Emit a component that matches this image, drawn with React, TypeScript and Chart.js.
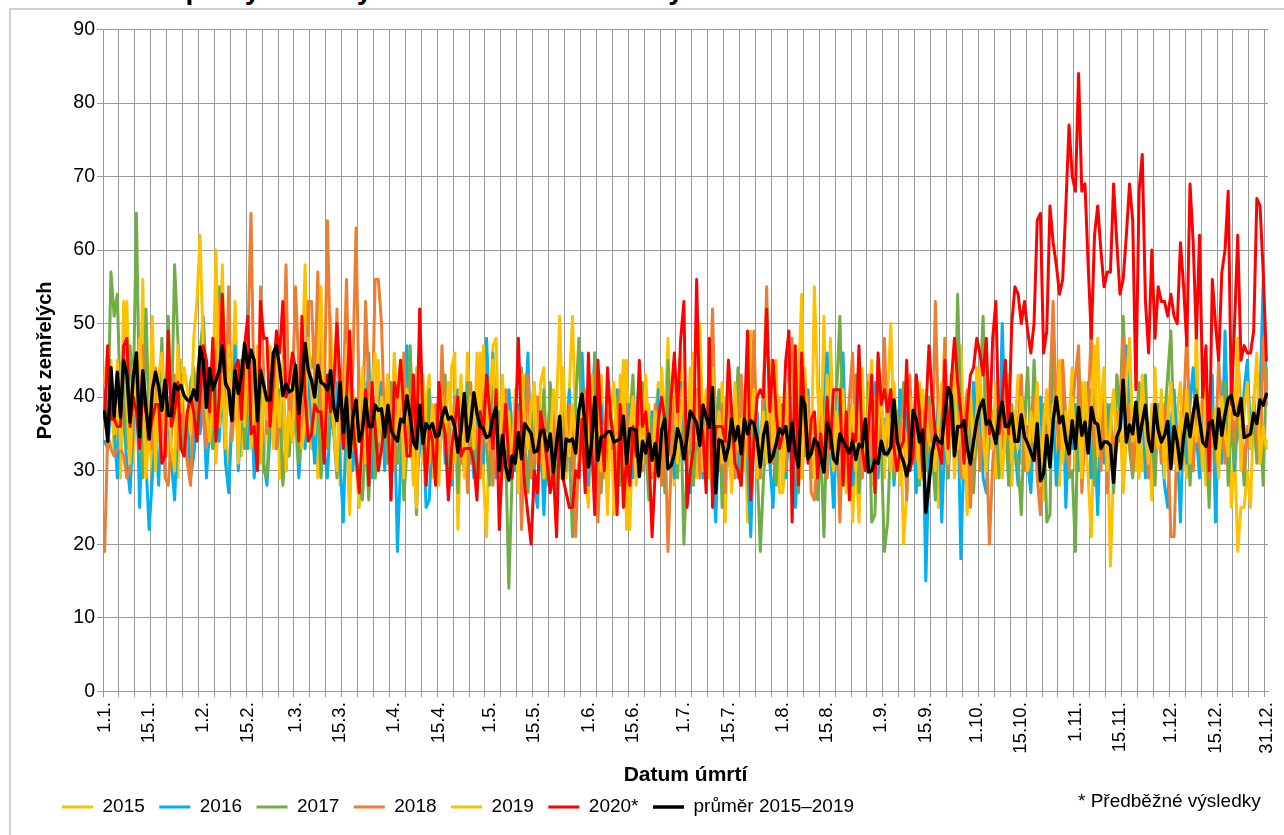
import React, { useEffect, useRef } from "react";
import { Chart, registerables } from "chart.js";

Chart.register(...registerables);

const days: number[] = Array.from({ length: 366 }, (_, i) => i);

const labelDays: [number, string][] = [
  [0, "1.1."], [14, "15.1."], [31, "1.2."], [45, "15.2."], [60, "1.3."], [74, "15.3."],
  [91, "1.4."], [105, "15.4."], [121, "1.5."], [135, "15.5."], [152, "1.6."], [166, "15.6."],
  [182, "1.7."], [196, "15.7."], [213, "1.8."], [227, "15.8."], [244, "1.9."], [258, "15.9."],
  [274, "1.10."], [288, "15.10."], [305, "1.11."], [319, "15.11."], [335, "1.12."], [349, "15.12."],
  [365, "31.12."],
];

const s2015 = [
  36,40,45,32,38,29,42,53,35,31,
  40,33,56,30,37,29,43,34,44,39,
  32,35,42,29,45,37,31,34,41,38,
  36,42,33,38,44,31,40,58,35,29,
  39,53,37,32,44,36,41,33,47,35,
  31,38,43,34,46,29,40,36,33,42,
  35,30,44,58,37,33,41,29,38,45,
  33,51,36,40,28,43,34,24,38,31,
  25,37,42,33,39,29,45,36,31,40,
  34,46,38,30,42,33,37,28,44,35,
  31,39,43,29,36,33,41,38,30,44,
  46,22,37,33,46,31,40,35,46,29,
  21,38,47,48,33,39,29,41,36,31,
  38,27,43,35,30,40,33,42,44,28,
  37,31,39,51,34,29,41,51,36,33,
  39,30,25,42,35,28,43,33,37,40,
  24,31,43,36,45,22,38,30,41,35,
  33,39,29,37,42,31,36,48,34,28,
  40,46,33,31,44,37,29,50,35,41,
  33,38,30,36,42,23,39,31,34,37,
  28,41,23,49,33,36,29,43,38,31,
  35,45,27,27,31,33,38,29,42,54,
  34,37,30,55,41,33,51,29,48,36,
  31,40,29,35,38,23,33,23,37,30,
  43,28,36,45,33,29,40,50,35,31,
  38,20,27,34,37,30,42,33,39,28,
  36,30,25,38,48,33,41,29,37,47,
  35,24,39,31,44,36,30,42,33,38,
  29,37,44,33,40,28,36,43,31,38,
  34,29,41,37,33,26,39,31,46,35,
  28,40,33,37,44,30,35,42,36,29,
  21,38,48,33,40,36,17,30,43,37,
  27,34,43,38,30,41,30,30,36,26,
  44,33,37,29,40,35,31,38,42,33,
  29,36,30,50,29,35,28,40,33,37,
  31,42,34,39,25,33,19,25,25,30,
  25,38,33,41,33,34,
];

const s2016 = [
  34,33,39,36,29,42,37,31,27,36,
  44,25,37,31,22,29,35,28,41,34,
  38,31,26,36,43,33,38,29,32,37,
  35,40,29,36,33,39,34,42,31,27,
  37,47,30,38,35,33,41,29,36,44,
  31,28,35,40,33,37,43,30,38,34,
  41,29,36,33,44,37,31,40,50,33,
  29,38,35,42,31,23,39,34,30,37,
  36,41,33,46,29,35,38,42,30,36,
  33,39,19,31,37,47,35,42,29,33,
  38,25,26,36,33,40,42,31,37,28,
  35,41,33,30,39,36,29,38,34,31,
  48,37,33,29,38,34,31,41,36,30,
  39,33,37,46,31,28,25,36,24,33,
  40,29,35,31,38,34,41,30,37,33,
  46,35,28,36,46,31,39,33,29,37,
  34,41,30,36,33,39,29,37,43,31,
  35,28,38,33,41,30,36,34,39,29,
  37,42,33,30,27,36,33,39,29,35,
  40,31,23,36,34,30,38,33,41,29,
  37,33,31,21,35,38,30,41,34,31,
  25,36,33,39,29,35,37,25,31,38,
  33,41,29,36,34,30,38,46,33,25,
  35,39,46,31,36,28,33,40,29,37,
  35,31,42,29,36,37,32,41,28,34,
  41,33,38,30,36,27,34,39,15,31,
  36,33,40,23,35,29,38,33,41,18,
  33,37,30,42,35,39,29,27,36,33,
  40,31,50,36,29,38,33,28,41,35,
  31,27,37,34,40,29,36,32,38,28,
  35,41,25,37,33,39,30,36,34,42,
  29,35,24,38,31,39,33,28,37,34,
  41,47,36,30,38,33,40,29,35,37,
  31,39,34,28,25,36,41,33,23,37,
  31,39,44,35,29,38,33,40,43,23,
  36,31,49,34,38,30,37,33,41,45,
  35,38,32,40,56,41,
];

const s2017 = [
  41,36,57,51,54,38,44,33,47,40,
  65,38,29,52,36,41,33,38,48,34,
  51,37,58,48,40,32,36,42,44,37,
  46,51,42,38,33,35,55,41,44,39,
  37,42,35,45,33,40,46,36,34,42,
  30,29,38,44,37,41,28,34,32,40,
  38,31,36,42,45,44,47,39,29,37,
  33,41,35,29,42,38,34,31,37,33,
  28,26,35,26,38,29,33,40,36,31,
  42,34,31,37,26,33,47,35,24,38,
  36,29,41,33,37,31,36,43,29,35,
  40,27,37,33,42,31,38,29,35,41,
  33,28,46,37,30,39,33,14,29,37,
  32,44,35,27,38,30,36,33,41,29,
  42,34,27,36,30,38,33,21,39,48,
  35,28,37,31,46,39,27,35,30,38,
  33,40,28,36,31,37,43,29,35,42,
  33,26,37,30,34,39,27,45,32,36,
  29,38,20,31,35,28,37,33,39,30,
  34,27,36,41,25,38,32,29,35,44,
  30,37,33,27,39,31,19,29,35,41,
  33,28,38,31,36,43,30,34,27,37,
  32,39,29,36,26,33,21,38,35,30,
  41,51,34,28,39,33,43,27,36,31,
  42,23,24,37,33,19,23,35,29,38,
  31,42,27,36,33,39,28,35,30,40,
  33,26,38,31,36,29,43,33,54,37,
  30,38,33,27,36,41,51,31,42,34,
  37,29,35,43,28,39,33,31,24,37,
  44,32,45,36,28,39,23,24,49,38,
  33,42,37,29,30,19,44,36,33,38,
  41,28,36,33,37,30,39,27,43,38,
  51,40,33,29,36,42,38,43,31,36,
  28,39,33,37,43,49,34,30,37,32,
  39,28,36,41,33,30,37,25,39,31,
  36,33,42,28,37,31,39,35,28,36,
  33,38,31,37,28,44,
];

const s2018 = [
  19,35,33,32,33,33,32,29,30,38,
  42,36,47,31,39,33,44,37,41,29,
  28,35,43,33,40,36,31,28,38,43,
  46,37,33,41,36,45,53,48,38,55,
  34,40,37,44,36,48,65,38,33,55,
  43,35,39,46,33,38,42,58,36,41,
  55,44,38,35,53,53,42,57,36,39,
  64,45,37,52,34,41,56,36,44,63,
  38,33,53,41,36,56,56,50,35,43,
  38,30,41,35,46,33,39,43,30,37,
  41,28,36,34,39,31,47,33,37,29,
  40,35,31,38,27,42,33,36,29,41,
  33,37,28,39,34,30,41,36,30,33,
  38,22,35,43,29,33,40,31,37,34,
  29,38,33,36,41,30,39,34,21,33,
  37,41,30,36,39,23,34,29,38,33,
  36,30,41,34,39,28,37,32,43,30,
  36,33,29,39,34,28,37,19,31,40,
  35,41,38,30,36,33,41,29,37,34,
  38,52,33,30,39,27,45,36,29,34,
  43,31,38,35,49,33,29,41,55,36,
  31,39,34,37,30,41,48,33,37,29,
  35,40,27,26,33,38,30,29,36,33,
  38,23,36,33,40,46,31,37,29,35,
  38,32,40,34,36,48,33,37,30,36,
  33,39,26,43,31,43,37,29,35,39,
  31,53,36,33,48,30,39,34,38,29,
  36,41,25,33,38,30,37,34,20,31,
  36,39,33,41,37,31,38,35,43,30,
  36,33,40,29,24,37,33,41,53,38,
  33,45,37,30,38,43,47,27,35,39,
  49,33,37,30,41,27,36,32,38,35,
  48,34,39,30,37,33,41,35,29,38,
  33,37,31,39,35,21,21,36,33,38,
  49,35,30,38,33,41,36,29,37,33,
  45,38,31,36,41,34,46,38,30,36,
  33,40,35,31,48,39,
];

const s2019 = [
  42,47,38,35,45,33,53,39,31,44,
  37,48,41,29,36,51,30,43,46,34,
  39,33,30,47,38,44,41,35,48,53,
  62,46,38,34,40,60,36,43,33,47,
  38,44,31,41,36,48,33,39,45,31,
  42,37,47,33,41,36,45,30,38,34,
  44,39,33,37,48,41,35,45,55,32,
  39,43,36,30,42,35,47,29,41,33,
  37,44,31,38,42,46,34,40,36,43,
  31,38,35,45,29,41,37,33,25,42,
  43,36,31,39,33,28,40,35,42,38,
  31,37,43,29,36,40,33,46,38,47,
  34,40,45,36,27,43,33,38,30,41,
  27,43,36,33,39,42,31,38,29,35,
  33,41,37,29,44,36,32,39,34,31,
  40,28,37,43,33,41,30,36,24,38,
  42,33,37,45,22,35,40,28,36,31,
  43,34,30,38,29,44,36,33,39,45,
  31,37,42,33,39,46,34,41,30,36,
  29,44,33,38,31,40,35,27,42,33,
  37,30,44,36,41,29,34,38,31,45,
  33,37,40,28,36,42,31,34,39,29,
  44,33,38,29,36,41,31,43,35,30,
  38,33,41,27,35,39,30,36,44,32,
  39,45,29,36,41,33,38,30,42,34,
  28,37,31,40,33,36,29,41,38,34,
  33,30,37,42,35,31,39,44,33,38,
  29,36,41,32,38,44,35,30,39,33,
  42,37,29,35,43,31,38,33,40,36,
  30,38,34,42,28,36,41,33,39,37,
  45,31,38,35,40,33,37,29,42,36,
  38,47,32,39,44,30,36,41,33,38,
  30,42,48,34,37,29,43,35,31,39,
  36,33,41,29,37,42,34,30,38,35,
  41,31,37,34,39,30,42,36,33,38,
  29,40,35,32,43,37,48,30,38,42,
  33,39,46,31,36,33,
];

const s2020 = [
  37,47,37,37,36,36,47,48,36,40,
  38,33,41,38,35,37,39,39,31,32,
  49,36,38,42,33,32,38,40,38,34,
  40,47,45,38,48,34,40,54,42,41,
  38,44,45,37,47,51,35,36,30,53,
  48,48,36,43,49,46,53,40,42,46,
  44,34,51,40,34,35,39,38,38,31,
  43,38,42,50,42,33,40,49,37,32,
  27,35,41,28,42,36,30,33,37,38,
  26,42,40,45,38,32,32,43,33,52,
  37,28,36,34,28,42,37,35,26,33,
  36,40,32,33,33,33,31,26,38,35,
  43,38,33,41,22,32,39,31,29,35,
  48,35,28,24,20,30,27,38,35,31,
  27,30,21,37,29,27,25,25,30,29,
  37,27,46,34,24,45,36,30,44,37,
  34,24,39,25,32,28,36,32,45,36,
  38,33,21,30,37,40,37,32,40,46,
  38,48,53,25,30,33,56,37,35,27,
  48,25,36,36,36,34,45,38,31,30,
  28,37,49,26,34,40,41,40,52,38,
  45,38,33,35,45,49,23,47,28,46,
  37,31,37,38,29,35,30,40,33,41,
  41,41,28,38,26,35,34,47,33,30,
  36,43,27,46,39,41,38,41,33,30,
  33,34,45,30,32,43,38,30,38,47,
  40,35,33,31,45,33,42,48,42,38,
  31,38,43,44,48,46,43,48,35,48,
  53,35,40,45,35,50,55,54,50,53,
  49,46,50,64,65,46,49,66,61,58,
  54,56,66,77,70,68,84,68,69,58,
  48,62,66,60,55,57,57,69,61,54,
  56,62,69,64,41,68,73,53,46,60,
  48,55,53,53,51,54,51,50,61,55,
  47,69,61,48,62,40,47,30,56,50,
  45,57,60,68,39,50,62,45,47,46,
  46,49,67,66,57,45,
];

const sAverage = [
  38,34,44,37.3,43.4,37.3,45,43,36.6,42.7,
  46,34.6,43.6,38.6,34.3,41,43.4,41.4,38.2,42.3,
  37.5,37.5,41.8,41,41.6,40.2,39.6,39.5,41,39.6,
  46.8,45,38.6,43.9,41,42.3,43.6,47,41.8,41,
  36.8,43.6,40.5,43,47.3,44,46.4,45,36.8,43.6,
  41.6,39.6,39.6,46,47,44,40.2,41.8,40.7,41,
  44.3,37.8,41.8,47.3,43.6,42.3,40,44.3,42,41.7,
  41,43.6,38.6,36.8,42,35.2,40,31.8,37.3,39.6,
  34,35.5,39.8,36,36,38.9,38.2,38.4,34.6,38.9,
  35.5,34.6,34,37,36.6,40.2,37.3,33.9,33,38.9,
  33.7,36.4,35.7,36.4,34.6,34.8,37.3,38.6,37,37.3,
  36,32.5,35.5,40.5,34,36.4,40.6,37.8,36,35.7,
  34.5,34.8,37.3,38.6,30,34.8,30.5,28.7,32,31,
  35.2,31.6,36.4,35.7,35,32.5,32.7,35.4,35.5,32.7,
  35,29.8,33.7,37.4,28.9,34.3,34,34.3,32.4,38.2,
  40.4,36,30.5,33.7,40,31.4,34.6,34.7,35.3,35.3,
  33.9,34.1,34.3,37.4,31,35.7,35.7,35.5,29.2,34,
  32.4,35,31.4,33.7,29.3,35.5,37,30.3,30.7,32.3,
  35.7,34.3,31.6,34.6,38.1,37.3,36.5,33.4,38.9,37.3,
  35.9,41.3,27,34.2,34,31.4,33.2,37,34.1,36,
  32.3,37,35,36.8,36.4,34.3,30.5,34.8,36.6,31.2,
  32,33.7,35.7,35,36,32.7,36.5,32.5,30.5,40,
  39,31.6,32.3,34.3,33.7,31.8,29.8,36.5,35.2,31.6,
  31,35,34,33.2,32.4,34,31.5,33.6,33.2,37,
  29.8,30,31.4,31,34,32.3,32.3,33.2,39.6,34,
  32.3,31.2,29.3,31.2,38.2,37,33.9,35.5,24.3,28.2,
  32.5,34.8,34,33.7,37.7,41.3,40.2,32,36,36,
  36.8,33.2,30.9,34,36.8,38.6,39.6,36.3,36.8,35.5,
  33.7,37.3,39.3,36,36,37.7,34,34,37.6,34.6,
  33.7,32.5,31.4,36.4,28.6,29.6,34.8,30.5,36.8,40,
  36.5,37.4,34,32.3,36.8,33,38.6,34.8,36.6,32.4,
  38.6,36.6,36.3,33,33.9,33.9,33.4,28.4,34.6,35.7,
  42.3,33.9,36.2,35,39.3,33.9,36.6,38.9,34.1,32.6,
  39,35.5,33.9,34.8,36.7,30.3,36,33.9,30.3,34.6,
  37.7,34.6,37.8,40.2,36.8,33.9,33.3,36.4,36.8,33,
  38.4,34.8,37.7,39.8,40.2,37.7,37.5,39.8,34.5,34.7,
  35,37.8,36.4,39.6,38.9,40.4,
];

const FONT = '"Liberation Sans", Arial, sans-serif';
const GRID = "#999999";
const labelMap = new Map<number, string>(labelDays);

const placeLegend = {
  id: "placeLegend",
  beforeDraw(chart: any) {
    if (chart.legend) {
      chart.legend.left = 47.5;
      chart.legend.top = 783;
    }
  },
};

function line(label: string, data: number[], color: string, order: number, width = 3) {
  return {
    label, data, order,
    borderColor: color,
    backgroundColor: color,
    borderWidth: width,
    borderJoinStyle: "round" as const,
    borderCapStyle: "round" as const,
    pointRadius: 0,
    pointStyle: "line" as const,
    tension: 0,
  };
}

export default function App() {
  const ref = useRef<HTMLCanvasElement>(null);
  useEffect(() => {
    document.body.style.margin = "0";
    document.documentElement.style.overflow = "hidden";
    const chart = new Chart(ref.current!, {
      type: "line",
      plugins: [placeLegend],
      data: {
        labels: days,
        datasets: [
          line("2015", s2015, "#FFC000", 7),
          line("2016", s2016, "#00B0F0", 6),
          line("2017", s2017, "#70AD47", 5),
          line("2018", s2018, "#ED7D31", 4),
          line("2019", s2019, "#FFC000", 3),
          line("2020*", s2020, "#FF0000", 2),
          line("průměr 2015–2019", sAverage, "#000000", 1, 3.4),
        ],
      },
      options: {
        animation: false,
        responsive: false,
        layout: { padding: { top: 29.5, right: 16, left: 0, bottom: 2 } },
        plugins: {
          tooltip: { enabled: false },
          title: { display: false },
          legend: {
            display: true,
            position: "bottom",
            align: "start",
            labels: {
              usePointStyle: true,
              pointStyle: "line",
              pointStyleWidth: 31,
              boxHeight: 3,
              padding: 14.5,
              color: "#000",
              font: { family: FONT, size: 19 },
              sort: (a: any, b: any) => a.datasetIndex - b.datasetIndex,
            },
          },
        },
        scales: {
          x: {
            type: "linear",
            min: -0.5,
            max: 365.5,
            afterBuildTicks(scale: any) {
              const ticks: { value: number }[] = [];
              for (let v = -0.5; v < 366; v += 5) ticks.push({ value: v });
              labelDays.forEach(([d]) => ticks.push({ value: d }));
              ticks.sort((a, b) => a.value - b.value);
              scale.ticks = ticks;
            },
            afterFit(scale: any) {
              scale.height = 98.3;
              scale.paddingRight = 0;
              scale.paddingLeft = 0;
            },
            border: { color: GRID, width: 1 },
            grid: {
              color: (c: any) => (labelMap.has(c.tick?.value) ? "rgba(0,0,0,0)" : GRID),
              tickColor: (c: any) => (labelMap.has(c.tick?.value) ? "rgba(0,0,0,0)" : GRID),
              tickLength: 6,
              lineWidth: 1,
            },
            ticks: {
              autoSkip: false,
              maxRotation: 90,
              minRotation: 90,
              padding: 5,
              color: "#000",
              font: { family: FONT, size: 18.5 },
              callback: (v: any) => labelMap.get(Number(v)) ?? "",
            },
            title: {
              display: true,
              text: "Datum úmrtí",
              color: "#000",
              font: { family: FONT, size: 21, weight: "bold" },
              padding: { top: 0, bottom: 2 },
            },
          },
          y: {
            min: 0,
            max: 90,
            afterFit(scale: any) {
              scale.width = 103;
            },
            border: { color: GRID, width: 1 },
            grid: { color: GRID, tickColor: GRID, tickLength: 6, lineWidth: 1 },
            ticks: {
              stepSize: 10,
              padding: 2,
              color: "#000",
              font: { family: FONT, size: 19.5 },
            },
            title: {
              display: true,
              text: "Počet zemřelých",
              color: "#000",
              font: { family: FONT, size: 20, weight: "bold" },
              padding: { top: 33, bottom: 0 },
            },
          },
        },
      },
    } as any);
    return () => chart.destroy();
  }, []);

  return (
    <div style={{ position: "fixed", left: 0, top: 0, width: 1284, height: 835, overflow: "hidden", background: "#fff" }}>
      <div style={{ position: "absolute", left: 9, top: 8, width: 1400, height: 1000, border: "2px solid #d0d0d0" }} />
      <div style={{ position: "absolute", left: 100, top: -24, font: `bold 28px/28px ${FONT}`, whiteSpace: "nowrap", color: "#000" }}>
        Denní počty zemřelý
      </div>
      <div style={{ position: "absolute", left: 634, top: -24, font: `bold 28px/28px ${FONT}`, whiteSpace: "nowrap", color: "#000" }}>
        dny
      </div>
      <canvas ref={ref} width={1284} height={835} style={{ position: "absolute", left: 0, top: 0, width: 1284, height: 835 }} />
      <div style={{ position: "absolute", left: 1078, top: 790, font: `19px/22px ${FONT}`, whiteSpace: "nowrap", color: "#000" }}>
        * Předběžné výsledky
      </div>
    </div>
  );
}
